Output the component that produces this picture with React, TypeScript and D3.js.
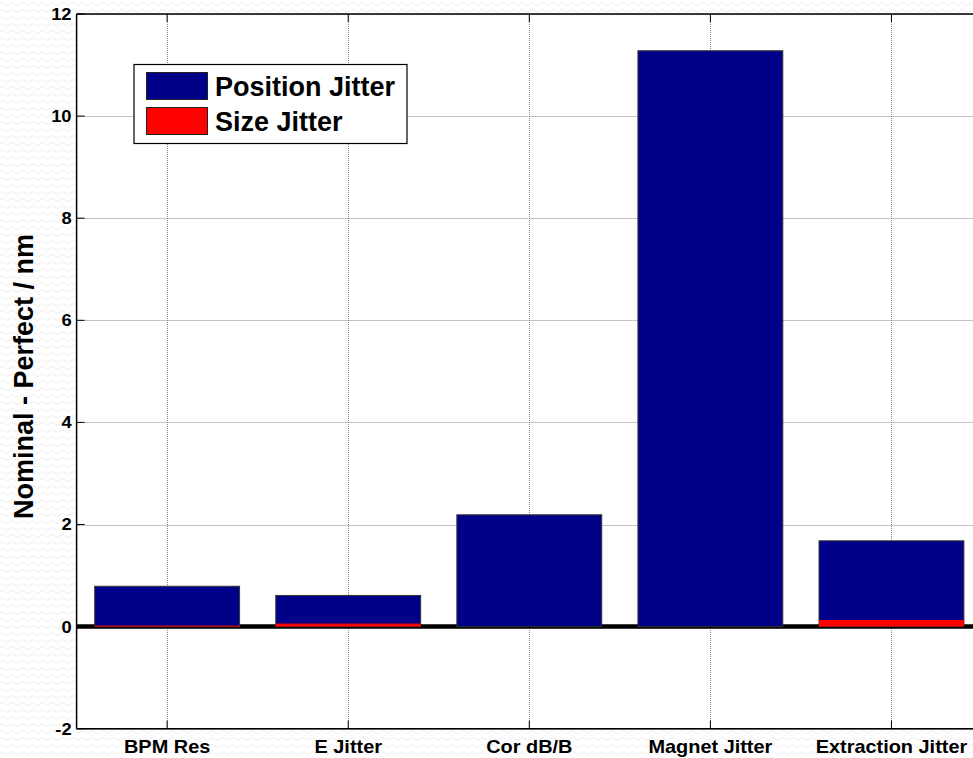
import React from "react";
import * as d3 from "d3";

const categories = ["BPM Res", "E Jitter", "Cor dB/B", "Magnet Jitter", "Extraction Jitter"];
const positionJitter = [0.79, 0.61, 2.19, 11.28, 1.68];
const sizeJitter = [0.02, 0.06, 0.0, 0.0, 0.13];
const yTicks = [-2, 0, 2, 4, 6, 8, 10, 12];
const seriesNames = ["Position Jitter", "Size Jitter"];
const seriesColors = ["#000088", "#ff0000"];

const W = 973, H = 758;
const left = 76.6, right = 982, top = 14, bottom = 728.7;

export default function App() {
  const x = d3.scaleLinear().domain([0.5, 5.5]).range([left, right]);
  const y = d3.scaleLinear().domain([-2, 12]).range([bottom, top]);
  const bw = 0.8;
  const font = "Arial, 'Liberation Sans', Helvetica, sans-serif";
  const series = [positionJitter, sizeJitter];
  return (
    <svg width={W} height={H} style={{ position: "absolute", left: 0, top: 0 }} fontFamily={font}>
      <defs>
        <pattern id="wave" width="10" height="7" patternUnits="userSpaceOnUse">
          <path d="M0,4 Q2.5,1 5,4 T10,4" fill="none" stroke="#ececec" strokeWidth="1" />
        </pattern>
        <clipPath id="plot">
          <rect x={left} y={top} width={right - left} height={bottom - top} />
        </clipPath>
      </defs>
      <rect x={0} y={0} width={W} height={H} fill="#fff" />
      <rect x={0} y={0} width={W} height={H} fill="url(#wave)" />
      <rect x={left} y={top} width={right - left} height={bottom - top} fill="#fff" />
      {/* grid */}
      <g stroke="#888" strokeWidth={1} strokeDasharray="1,1">
        {yTicks.map((t) => (
          <line key={"gy" + t} x1={left} x2={right} y1={Math.round(y(t)) + 0.5} y2={Math.round(y(t)) + 0.5} />
        ))}
        {categories.map((c, i) => (
          <line key={"gx" + c} x1={Math.round(x(i + 1)) + 0.5} x2={Math.round(x(i + 1)) + 0.5} y1={top} y2={bottom} />
        ))}
      </g>
      {/* baseline */}
      <line x1={left} x2={right} y1={y(0)} y2={y(0)} stroke="#000" strokeWidth={4.5} />
      {/* bars */}
      <g clipPath="url(#plot)">
        {series.map((vals, s) =>
          vals.map((v, i) =>
            v > 0 ? (
              <rect
                key={s + "-" + i}
                x={x(i + 1 - bw / 2)}
                width={x(i + 1 + bw / 2) - x(i + 1 - bw / 2)}
                y={y(v)}
                height={y(0) - y(v)}
                fill={seriesColors[s]}
                stroke={s === 0 ? "#333" : "none"}
                strokeWidth={1}
              />
            ) : null
          )
        )}
      </g>
      {/* axes */}
      <g stroke="#000" strokeWidth={1.5} fill="none">
        <line x1={left} x2={left} y1={top} y2={bottom} />
        <line x1={left} x2={right} y1={top} y2={top} />
        <line x1={left} x2={right} y1={bottom} y2={bottom} />
        {yTicks.map((t) => (
          <line key={"ty" + t} x1={left} x2={left + 8} y1={y(t)} y2={y(t)} strokeWidth={1} />
        ))}
        {categories.map((c, i) => (
          <g key={"tx" + c}>
            <line x1={x(i + 1)} x2={x(i + 1)} y1={bottom} y2={bottom - 8} strokeWidth={1} />
            <line x1={x(i + 1)} x2={x(i + 1)} y1={top} y2={top + 8} strokeWidth={1} />
          </g>
        ))}
      </g>
      {/* tick labels */}
      <g fontWeight="bold" fill="#000">
        {yTicks.map((t) => (
          <text key={"ly" + t} x={left - 5} y={y(t) + 6} textAnchor="end" fontSize={17}
            transform={`translate(${left - 5},0) scale(1.08,1) translate(${-(left - 5)},0)`}>
            {t}
          </text>
        ))}
        {categories.map((c, i) => (
          <text key={"lx" + c} x={x(i + 1)} y={753.5} textAnchor="middle" fontSize={17.8}
            transform={`translate(${x(i + 1)},0) scale(1.12,1) translate(${-x(i + 1)},0)`}>
            {c}
          </text>
        ))}
      </g>
      <text
        transform={`translate(33,376.5) rotate(-90)`}
        textAnchor="middle"
        fontWeight="bold"
        fontSize={27}
      >
        Nominal - Perfect / nm
      </text>
      {/* legend */}
      <g>
        <rect x={134} y={64.5} width={273} height={79} fill="#fff" stroke="#000" strokeWidth={1.2} />
        {seriesNames.map((n, i) => (
          <g key={n}>
            <rect x={146.5} y={72.5 + i * 35} width={61} height={27} fill={seriesColors[i]} stroke="#222" strokeWidth={1} />
            <text x={215} y={96 + i * 35} fontWeight="bold" fontSize={27}>
              {n}
            </text>
          </g>
        ))}
      </g>
    </svg>
  );
}
